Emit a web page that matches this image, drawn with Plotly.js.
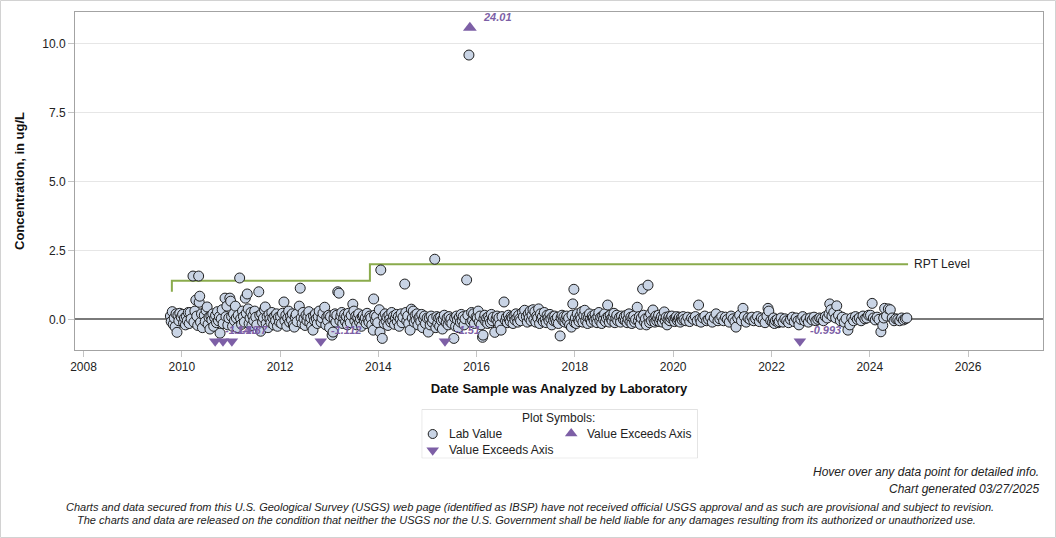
<!DOCTYPE html>
<html>
<head>
<meta charset="utf-8">
<script src="https://cdn.plot.ly/plotly-3.0.1.min.js"></script>
<style>
  html, body { margin: 0; padding: 0; background: #ffffff; }
  #chart { width: 1056px; height: 538px; }
</style>
</head>
<body>
<div id="chart"></div>
<script>
// ---- Lab results: analysis date and concentration (ug/L) ----
const labDates = [
  '2009-10-08','2009-10-14','2009-10-22','2009-10-29','2009-11-05','2009-11-12','2009-11-19','2009-11-26','2009-12-03','2009-12-10','2009-12-17','2009-12-28',
  '2010-01-07','2010-01-14','2010-01-21','2010-01-28','2010-02-04','2010-02-11','2010-02-18','2010-02-25','2010-03-04','2010-03-11','2010-03-25','2010-04-01','2010-04-08','2010-04-15','2010-04-22','2010-04-29','2010-05-06','2010-05-10','2010-05-14','2010-05-20','2010-05-27','2010-06-03','2010-06-17','2010-06-24','2010-07-01','2010-07-08','2010-07-15','2010-07-22','2010-07-29','2010-08-05','2010-08-12','2010-08-19','2010-08-26','2010-09-02','2010-09-09','2010-09-16','2010-09-23','2010-09-30','2010-10-07','2010-10-12','2010-10-21','2010-10-28','2010-11-04','2010-11-18','2010-11-25','2010-12-02','2010-12-09','2010-12-16','2010-12-24','2010-12-30',
  '2011-01-06','2011-01-13','2011-01-20','2011-01-27','2011-02-03','2011-02-10','2011-02-17','2011-02-24','2011-03-07','2011-03-14','2011-03-21','2011-03-28','2011-04-04','2011-04-11','2011-04-18','2011-04-25','2011-05-02','2011-05-09','2011-05-16','2011-05-23','2011-05-30','2011-06-06','2011-06-13','2011-06-20','2011-06-27','2011-07-05','2011-07-12','2011-07-27','2011-08-03','2011-08-10','2011-08-17','2011-08-24','2011-08-31','2011-09-07','2011-09-13','2011-09-20','2011-09-27','2011-10-04','2011-10-11','2011-10-18','2011-10-25','2011-11-01','2011-11-08','2011-11-15','2011-11-22','2011-11-29','2011-12-06','2011-12-13','2011-12-20','2011-12-28',
  '2012-01-05','2012-01-12','2012-01-19','2012-01-30','2012-02-06','2012-02-13','2012-02-20','2012-02-27','2012-03-05','2012-03-12','2012-03-19','2012-03-26','2012-04-02','2012-04-09','2012-04-16','2012-04-23','2012-04-30','2012-05-07','2012-05-23','2012-05-30','2012-06-06','2012-06-13','2012-06-20','2012-06-27','2012-07-05','2012-07-12','2012-07-19','2012-07-26','2012-08-02','2012-08-09','2012-08-16','2012-08-23','2012-09-02','2012-09-06','2012-09-13','2012-09-20','2012-09-27','2012-10-04','2012-10-11','2012-10-18','2012-11-01','2012-11-08','2012-11-15','2012-11-28','2012-12-06','2012-12-13','2012-12-20','2012-12-28',
  '2013-01-03','2013-01-10','2013-01-22','2013-01-29','2013-02-05','2013-02-12','2013-02-19','2013-02-26','2013-03-05','2013-03-14','2013-03-21','2013-03-28','2013-04-04','2013-04-11','2013-04-18','2013-04-25','2013-05-02','2013-05-09','2013-05-16','2013-05-23','2013-05-30','2013-06-06','2013-06-13','2013-06-25','2013-07-03','2013-07-10','2013-07-17','2013-07-24','2013-07-31','2013-08-07','2013-08-14','2013-08-21','2013-08-28','2013-09-04','2013-09-11','2013-09-18','2013-09-25','2013-10-02','2013-10-09','2013-10-16','2013-10-23','2013-10-30','2013-11-06','2013-11-13','2013-11-24','2013-11-27','2013-12-04','2013-12-11','2013-12-18','2013-12-27',
  '2014-01-08','2014-01-13','2014-01-19','2014-01-30','2014-02-06','2014-02-13','2014-02-20','2014-02-27','2014-03-06','2014-03-13','2014-03-20','2014-03-27','2014-04-03','2014-04-10','2014-04-17','2014-04-24','2014-05-01','2014-05-08','2014-05-15','2014-05-22','2014-05-29','2014-06-05','2014-06-12','2014-06-19','2014-06-26','2014-07-03','2014-07-16','2014-07-24','2014-07-31','2014-08-07','2014-08-14','2014-08-25','2014-09-03','2014-09-10','2014-09-17','2014-09-24','2014-10-01','2014-10-08','2014-10-15','2014-10-22','2014-10-29','2014-11-05','2014-11-12','2014-11-19','2014-11-26','2014-12-03','2014-12-10','2014-12-17','2014-12-29',
  '2015-01-07','2015-01-14','2015-01-21','2015-01-28','2015-02-04','2015-02-11','2015-02-24','2015-03-04','2015-03-11','2015-03-18','2015-03-25','2015-04-01','2015-04-08','2015-04-15','2015-04-22','2015-04-29','2015-05-06','2015-05-20','2015-05-27','2015-06-03','2015-06-10','2015-06-17','2015-06-24','2015-07-01','2015-07-16','2015-07-22','2015-07-29','2015-08-05','2015-08-12','2015-08-19','2015-08-26','2015-09-02','2015-09-09','2015-09-16','2015-09-23','2015-09-30','2015-10-07','2015-10-19','2015-10-28','2015-11-05','2015-11-18','2015-11-25','2015-12-02','2015-12-09','2015-12-16','2015-12-28',
  '2016-01-06','2016-01-13','2016-01-20','2016-01-27','2016-02-03','2016-02-14','2016-02-18','2016-02-24','2016-03-02','2016-03-09','2016-03-16','2016-03-23','2016-03-30','2016-04-06','2016-04-13','2016-04-20','2016-04-27','2016-05-04','2016-05-15','2016-05-25','2016-06-01','2016-06-08','2016-06-15','2016-06-22','2016-07-01','2016-07-08','2016-07-23','2016-08-03','2016-08-10','2016-08-17','2016-08-24','2016-08-31','2016-09-07','2016-09-14','2016-09-21','2016-09-28','2016-10-05','2016-10-12','2016-10-19','2016-10-26','2016-11-02','2016-11-09','2016-11-16','2016-11-23','2016-12-07','2016-12-14','2016-12-23',
  '2017-01-05','2017-01-12','2017-01-19','2017-01-26','2017-02-02','2017-02-09','2017-02-16','2017-02-23','2017-03-02','2017-03-09','2017-03-16','2017-03-23','2017-03-30','2017-04-06','2017-04-13','2017-04-20','2017-04-27','2017-05-04','2017-05-11','2017-05-18','2017-05-25','2017-06-01','2017-06-08','2017-06-15','2017-06-22','2017-06-29','2017-07-06','2017-07-13','2017-07-20','2017-07-27','2017-08-03','2017-08-10','2017-08-17','2017-08-24','2017-08-31','2017-09-13','2017-09-20','2017-09-27','2017-10-04','2017-10-11','2017-10-18','2017-10-25','2017-11-01','2017-11-08','2017-11-15','2017-11-22','2017-12-06','2017-12-10','2017-12-16','2017-12-24','2017-12-29',
  '2018-01-04','2018-01-11','2018-01-18','2018-01-25','2018-02-01','2018-02-08','2018-02-15','2018-02-22','2018-03-01','2018-03-08','2018-03-15','2018-03-22','2018-03-29','2018-04-05','2018-04-12','2018-04-19','2018-04-26','2018-05-03','2018-05-10','2018-05-17','2018-05-24','2018-05-31','2018-06-07','2018-06-14','2018-06-21','2018-06-28','2018-07-05','2018-07-12','2018-07-19','2018-07-26','2018-08-02','2018-08-09','2018-08-16','2018-08-23','2018-09-01','2018-09-06','2018-09-13','2018-09-20','2018-09-27','2018-10-04','2018-10-11','2018-10-18','2018-10-25','2018-11-01','2018-11-08','2018-11-15','2018-11-29','2018-12-06','2018-12-13','2018-12-27',
  '2019-01-03','2019-01-10','2019-01-17','2019-01-24','2019-01-31','2019-02-07','2019-02-14','2019-02-21','2019-02-28','2019-03-07','2019-03-14','2019-03-21','2019-03-28','2019-04-09','2019-04-18','2019-04-25','2019-05-02','2019-05-09','2019-05-19','2019-05-26','2019-06-02','2019-06-09','2019-06-16','2019-06-28','2019-07-03','2019-07-10','2019-07-17','2019-07-24','2019-08-04','2019-08-11','2019-08-18','2019-08-25','2019-09-01','2019-09-08','2019-09-15','2019-09-22','2019-09-29','2019-10-06','2019-10-13','2019-10-20','2019-10-27','2019-11-03','2019-11-10','2019-11-17','2019-11-24','2019-12-01','2019-12-08','2019-12-15','2019-12-22',
  '2020-01-05','2020-01-12','2020-01-19','2020-01-26','2020-02-02','2020-02-09','2020-02-16','2020-02-23','2020-03-01','2020-03-08','2020-03-15','2020-03-22','2020-04-05','2020-04-19','2020-05-03','2020-05-17','2020-05-31','2020-06-14','2020-06-28','2020-07-08','2020-07-19','2020-07-26','2020-08-09','2020-08-23','2020-09-06','2020-09-20','2020-10-04','2020-10-18','2020-11-01','2020-11-15','2020-11-29','2020-12-13','2020-12-27',
  '2021-01-10','2021-01-24','2021-02-07','2021-02-21','2021-03-07','2021-03-21','2021-04-04','2021-04-12','2021-04-25','2021-05-09','2021-05-23','2021-06-03','2021-06-13','2021-06-27','2021-07-11','2021-07-25','2021-08-08','2021-08-22','2021-09-05','2021-09-19','2021-10-03','2021-10-17','2021-10-31','2021-11-14','2021-11-28','2021-12-06','2021-12-12','2021-12-26',
  '2022-01-09','2022-01-16','2022-01-23','2022-01-30','2022-02-13','2022-02-20','2022-02-27','2022-03-13','2022-03-27','2022-04-10','2022-04-24','2022-05-08','2022-05-22','2022-06-05','2022-06-19','2022-07-03','2022-07-17','2022-07-24','2022-08-07','2022-08-21','2022-09-04','2022-09-18','2022-10-02','2022-10-16','2022-10-30','2022-11-13','2022-11-27','2022-12-11','2022-12-25',
  '2023-01-08','2023-01-22','2023-02-05','2023-02-19','2023-03-05','2023-03-10','2023-03-19','2023-03-26','2023-04-09','2023-04-23','2023-05-01','2023-05-14','2023-05-28','2023-06-11','2023-06-25','2023-07-09','2023-07-23','2023-08-06','2023-08-20','2023-09-03','2023-09-17','2023-10-01','2023-10-15','2023-10-29','2023-11-12','2023-11-26','2023-12-10','2023-12-24',
  '2024-01-07','2024-01-19','2024-01-28','2024-02-11','2024-02-25','2024-03-10','2024-03-24','2024-04-07','2024-04-14','2024-04-21','2024-05-05','2024-05-19','2024-06-02','2024-06-16','2024-06-30','2024-07-14','2024-07-28','2024-08-11','2024-08-25','2024-09-08','2024-09-22','2024-10-03'
];
const labValues = [
  0.12,-0.08,0.28,-0.18,0.05,-0.27,0.2,-0.47,0.15,-0.05,0.22,0.08,
  0.18,-0.12,0.05,-0.2,0.1,-0.05,0.25,-0.15,0.25,0.02,1.57,-0.1,0.3,0.7,0.12,-0.22,1.57,0.62,0.84,-0.1,0.2,-0.3,0.15,-0.08,0.32,0.45,-0.18,0.08,-0.35,0.12,-0.02,0.2,-0.25,0.05,0.15,-0.12,0.28,-0.05,0.1,-0.5,0.02,0.35,-0.15,0.77,0.1,0.48,-0.2,0.05,0.77,0.66,
  0.1,-0.25,0.2,-0.05,0.48,0.05,-0.3,0.15,1.5,0.02,-0.18,0.3,0.1,-0.1,0.77,0.22,0.92,0.38,-0.15,0.05,0.25,-0.22,0.12,-0.05,0.3,0.08,-0.2,1.0,0.15,-0.43,0.2,-0.1,0.05,0.35,0.45,-0.15,0.1,-0.3,0.18,0.02,-0.12,0.25,0.05,-0.2,0.12,-0.05,0.2,-0.25,0.08,-0.1,
  0.1,-0.15,0.22,0.63,-0.05,0.15,-0.25,0.05,0.3,-0.1,0.12,-0.02,0.2,-0.2,-0.28,0.08,0.18,-0.08,0.48,1.13,0.05,-0.15,0.25,0.02,-0.22,0.15,-0.05,0.1,0.28,-0.12,0.05,-0.25,-0.39,0.12,-0.05,0.2,0.02,-0.15,0.1,0.3,-0.1,0.05,0.22,0.44,-0.2,0.08,-0.05,0.15,
  -0.3,0.1,-0.57,-0.46,0.05,0.2,-0.1,0.15,1.0,0.95,-0.05,0.12,0.25,-0.15,0.05,0.18,-0.08,0.1,-0.2,0.22,0.02,-0.12,0.15,0.55,0.3,-0.05,0.12,-0.2,0.08,0.2,-0.1,0.02,-0.25,0.1,0.15,-0.05,0.05,-0.15,0.22,0.0,-0.1,0.12,0.05,-0.2,-0.39,0.74,0.15,-0.05,0.1,-0.12,
  0.35,-0.46,1.79,-0.69,0.1,-0.15,0.2,-0.05,0.08,-0.22,0.15,0.02,-0.1,0.25,-0.05,0.12,-0.18,0.05,0.18,-0.08,0.1,-0.25,0.02,0.2,-0.12,0.08,1.28,0.25,-0.05,0.12,-0.15,-0.39,0.37,0.05,0.3,-0.1,0.15,-0.02,0.2,-0.2,0.05,0.1,-0.08,0.18,-0.3,0.02,0.12,-0.15,0.05,
  -0.46,0.05,-0.2,0.12,-0.1,0.02,2.18,-0.3,0.1,-0.15,0.05,-0.25,0.08,-0.05,-0.35,0.0,0.15,-0.12,0.05,-0.2,0.1,-0.08,0.02,-0.15,-0.69,0.05,-0.25,0.12,-0.02,-0.3,0.08,-0.1,0.18,-0.05,0.1,-0.2,0.02,1.43,0.15,9.58,-0.1,0.25,-0.05,0.2,-0.15,0.08,
  0.05,0.3,-0.1,0.12,-0.2,-0.65,-0.57,0.02,0.15,-0.08,0.05,-0.15,0.1,0.0,-0.12,0.18,-0.05,0.08,-0.47,0.02,0.12,-0.1,0.05,-0.2,-0.39,0.1,0.63,-0.05,0.08,-0.12,0.15,0.0,-0.08,0.1,0.05,-0.15,0.12,-0.02,0.2,0.05,-0.1,0.15,0.02,-0.05,0.25,0.1,0.33,
  0.1,-0.1,0.2,0.05,0.3,-0.05,0.15,0.35,0.0,0.28,-0.1,0.12,0.05,0.38,-0.15,0.2,0.02,0.1,-0.08,0.25,0.0,-0.12,0.15,0.05,-0.05,0.18,0.02,-0.2,0.1,-0.05,0.12,0.0,-0.1,0.08,-0.15,-0.6,0.05,0.15,-0.05,0.1,-0.1,0.02,0.12,-0.08,0.05,-0.2,-0.28,0.15,0.56,1.09,-0.12,
  0.05,-0.15,0.2,0.0,-0.08,0.12,0.02,0.28,-0.1,0.15,0.33,-0.05,0.1,-0.15,0.08,0.2,0.0,-0.1,0.12,0.05,-0.05,0.18,0.02,-0.12,0.1,0.25,-0.05,0.08,-0.15,0.12,0.0,0.2,-0.08,0.05,0.52,0.1,-0.1,0.15,0.02,-0.05,0.1,0.22,-0.12,0.05,0.15,-0.05,0.08,-0.1,0.12,0.0,
  0.1,-0.05,0.15,-0.12,0.02,0.2,-0.08,0.08,-0.15,0.05,0.12,-0.1,0.0,0.44,-0.05,0.1,-0.18,0.05,1.1,0.15,-0.1,0.02,-0.2,1.24,0.08,-0.12,0.2,-0.05,0.34,0.0,-0.1,0.12,-0.05,0.05,0.15,-0.08,0.02,0.1,-0.1,0.05,0.27,-0.05,0.08,-0.2,0.0,0.1,-0.05,0.05,0.12,
  0.0,-0.08,0.05,0.1,-0.05,0.02,0.08,-0.1,0.05,-0.02,0.1,0.0,-0.05,0.08,-0.08,0.05,0.0,0.1,-0.05,0.52,0.02,-0.1,0.05,0.12,-0.05,0.0,0.08,-0.1,0.05,0.2,-0.05,0.02,0.1,
  -0.05,0.08,0.0,-0.1,0.12,0.02,-0.08,-0.28,0.05,0.15,-0.05,0.4,0.1,-0.1,0.05,0.0,0.08,-0.05,0.02,0.1,-0.08,0.05,0.0,-0.12,0.12,0.4,0.3,-0.05,
  -0.1,0.05,-0.15,-0.05,0.0,-0.12,-0.08,0.05,-0.1,0.02,-0.05,-0.12,0.0,0.08,-0.08,0.05,-0.05,-0.2,0.0,0.1,-0.05,0.02,-0.1,0.05,-0.02,0.08,-0.05,0.0,0.05,
  0.02,-0.05,0.1,0.05,0.2,0.56,0.35,0.12,0.25,0.05,0.49,0.15,-0.05,0.08,-0.1,0.02,-0.39,-0.2,0.05,-0.05,0.1,0.0,0.05,-0.05,0.12,0.02,0.05,0.15,
  0.15,0.58,0.05,-0.02,0.08,0.0,-0.45,-0.22,0.05,0.4,0.12,0.38,0.35,0.05,-0.05,0.02,0.0,-0.05,0.05,-0.02,0.02,0.05
];

// ---- Results outside the plotted range ----
const belowDates  = ['2010-09-06','2010-11-03','2011-01-08','2012-10-30','2015-05-11','2022-07-31'];
const belowValues = [-1.14, -1.48, -1.37, -1.112, -1.51, -0.993];
const aboveDates  = ['2015-11-12'];
const aboveValues = [24.01];

// ---- Reporting level (step line) ----
const rptDates  = ['2009-10-19', '2013-10-30', '2024-10-12'];
const rptValues = [1.0, 1.4, 2.0];

// ---- Axis ticks ----
const yTickVals = [0, 2.5, 5, 7.5, 10];
const xTickYears = ['2008','2010','2012','2014','2016','2018','2020','2022','2024','2026'];

// ---- Layout helpers (page pixels -> paper fractions) ----
const W = 1056, H = 538;
const fx = x => x / W;
const fy = y => 1 - y / H;

const yRange = [-1.11, 11.14];
// out-of-range results sit just inside the frame
const edgeLow = -0.79, edgeHigh = 10.57;
const clampY = v => Math.min(Math.max(v, edgeLow), edgeHigh);

const FONT = 'Liberation Sans, Arial, sans-serif';
const purple = '#7d5fa6';
const circleFill = '#c9d4e5';
const circleLine = '#1e1e1e';

const traces = [
  {
    type: 'scatter', mode: 'lines', name: 'RPT Level',
    x: rptDates, y: rptValues,
    line: { shape: 'vh', color: '#8aab4c', width: 2 },
    hoverinfo: 'skip', showlegend: false
  },
  {
    type: 'scatter', mode: 'markers', name: 'Lab Value',
    x: labDates, y: labValues,
    marker: { symbol: 'circle', size: 10, color: circleFill, line: { color: circleLine, width: 1 } },
    hovertemplate: '%{x|%m/%d/%Y}<br>%{y} ug/L<extra></extra>', showlegend: false
  },
  {
    type: 'scatter', mode: 'markers', name: 'Value Exceeds Axis',
    x: belowDates, y: belowValues.map(clampY),
    customdata: belowValues,
    marker: { symbol: 'triangle-down', size: 11, color: purple, line: { width: 0 } },
    hovertemplate: '%{x|%m/%d/%Y}<br>%{customdata} ug/L<extra></extra>', showlegend: false
  },
  {
    type: 'scatter', mode: 'markers', name: 'Value Exceeds Axis',
    x: aboveDates, y: aboveValues.map(clampY),
    customdata: aboveValues,
    marker: { symbol: 'triangle-up', size: 12, color: purple, line: { width: 0 } },
    hovertemplate: '%{x|%m/%d/%Y}<br>%{customdata} ug/L<extra></extra>', showlegend: false
  },
  // legend key symbols (box-local pixel grid on x2/y2)
  {
    type: 'scatter', mode: 'markers', xaxis: 'x2', yaxis: 'y2',
    x: [11], y: [24.7], hoverinfo: 'skip', showlegend: false,
    marker: { symbol: 'circle', size: 9, color: circleFill, line: { color: circleLine, width: 1 } }
  },
  {
    type: 'scatter', mode: 'markers', xaxis: 'x2', yaxis: 'y2',
    x: [149.5], y: [24.2], hoverinfo: 'skip', showlegend: false,
    marker: { symbol: 'triangle-up', size: 11, color: purple, line: { width: 0 } }
  },
  {
    type: 'scatter', mode: 'markers', xaxis: 'x2', yaxis: 'y2',
    x: [11], y: [41], hoverinfo: 'skip', showlegend: false,
    marker: { symbol: 'triangle-down', size: 11, color: purple, line: { width: 0 } }
  }
];

const annotations = [];

// value labels beside out-of-range markers
belowDates.forEach((d, i) => {
  annotations.push({
    x: d, y: clampY(belowValues[i]), xref: 'x', yref: 'y',
    text: '<b><i>' + belowValues[i] + '</i></b>', showarrow: false,
    xanchor: 'left', yanchor: 'middle', xshift: 8, yshift: 11,
    font: { family: FONT, size: 11, color: purple }
  });
});
aboveDates.forEach((d, i) => {
  annotations.push({
    x: d, y: clampY(aboveValues[i]), xref: 'x', yref: 'y',
    text: '<b><i>' + aboveValues[i].toFixed(2) + '</i></b>', showarrow: false,
    xanchor: 'left', yanchor: 'middle', xshift: 11, yshift: 11,
    font: { family: FONT, size: 11, color: purple }
  });
});

// reporting level label
annotations.push({
  x: rptDates[rptDates.length - 1], y: rptValues[rptValues.length - 1], xref: 'x', yref: 'y',
  text: 'RPT Level', showarrow: false, xanchor: 'left', yanchor: 'middle', xshift: 4,
  font: { family: FONT, size: 12, color: '#222' }
});

// legend box text
const legendText = [
  { x: 137, y: 8.7, t: 'Plot Symbols:', a: 'center' },
  { x: 25, y: 24.7, t: 'Lab Value', a: 'left' },
  { x: 163, y: 24.7, t: 'Value Exceeds Axis', a: 'left' },
  { x: 25, y: 40.7, t: 'Value Exceeds Axis', a: 'left' }
];
legendText.forEach(o => annotations.push({
  x: o.x, y: o.y, xref: 'x2', yref: 'y2', text: o.t, showarrow: false,
  xanchor: o.a, yanchor: 'middle', font: { family: FONT, size: 12, color: '#222' }
}));

// footer notes
const footer = [
  { x: 1041, y: 472, t: 'Hover over any data point for detailed info.', a: 'right', s: 12 },
  { x: 1041, y: 489, t: 'Chart generated 03/27/2025', a: 'right', s: 12 },
  { x: 530, y: 507, t: 'Charts and data secured from this U.S. Geological Survey (USGS) web page (identified as IBSP) have not received official USGS approval and as such are provisional and subject to revision.', a: 'center', s: 11 },
  { x: 526, y: 520, t: 'The charts and data are released on the condition that neither the USGS nor the U.S. Government shall be held liable for any damages resulting from its authorized or unauthorized use.', a: 'center', s: 11 }
];
footer.forEach(o => annotations.push({
  x: fx(o.x), y: fy(o.y), xref: 'paper', yref: 'paper', text: '<i>' + o.t + '</i>',
  showarrow: false, xanchor: o.a, yanchor: 'middle',
  font: { family: FONT, size: o.s, color: '#222' }
}));

const layout = {
  width: W, height: H,
  margin: { l: 0, r: 0, t: 0, b: 0, pad: 0 },
  paper_bgcolor: '#ffffff', plot_bgcolor: '#ffffff',
  font: { family: FONT, size: 12, color: '#222' },
  showlegend: false,
  hovermode: 'closest',
  xaxis: {
    domain: [fx(75), fx(1043)],
    type: 'date',
    range: ['2007-10-30', '2027-07-12'],
    tickvals: xTickYears.map(y => y + '-01-01'),
    ticktext: xTickYears,
    ticks: 'outside', ticklen: 6, tickcolor: '#c4c4c4', tickwidth: 1,
    showgrid: false, zeroline: false,
    showline: true, mirror: true, linecolor: '#a3a3a3', linewidth: 1,
    tickfont: { family: FONT, size: 12, color: '#222' },
    title: { text: 'Date Sample was Analyzed by Laboratory', standoff: 10,
             font: { family: FONT, size: 13, color: '#111', weight: 'bold' } },
    automargin: false, fixedrange: true
  },
  yaxis: {
    domain: [fy(350), fy(12)],
    range: yRange,
    tickvals: yTickVals, tickformat: '.1f',
    ticks: 'outside', ticklen: 6, tickcolor: '#c4c4c4', tickwidth: 1,
    showgrid: true, gridcolor: '#e6e6e6', gridwidth: 1,
    zeroline: true, zerolinecolor: '#7a7a7a', zerolinewidth: 2,
    showline: true, mirror: true, linecolor: '#a3a3a3', linewidth: 1,
    tickfont: { family: FONT, size: 12, color: '#222' },
    title: { text: 'Concentration, in ug/L', standoff: 14,
             font: { family: FONT, size: 13, color: '#111', weight: 'bold' } },
    automargin: false, fixedrange: true
  },
  xaxis2: {
    domain: [fx(421.7), fx(697.7)], range: [0, 276], anchor: 'y2',
    visible: false, fixedrange: true
  },
  yaxis2: {
    domain: [fy(458.3), fy(409.3)], range: [49, 0], anchor: 'x2',
    visible: false, fixedrange: true
  },
  shapes: [
    // legend frame
    { type: 'rect', xref: 'x2', yref: 'y2', x0: 0, x1: 276, y0: 0, y1: 49,
      line: { color: '#cfcfcf', width: 1 }, fillcolor: 'rgba(0,0,0,0)', layer: 'below' },
    // page frame
    { type: 'rect', xref: 'paper', yref: 'paper', x0: fx(0.5), x1: fx(1055.5), y0: fy(537.5), y1: fy(0.5),
      line: { color: '#d2d2d2', width: 1 }, fillcolor: 'rgba(0,0,0,0)' }
  ],
  annotations: annotations
};

Plotly.newPlot('chart', traces, layout, { displayModeBar: false, staticPlot: false, responsive: false });
</script>
</body>
</html>
